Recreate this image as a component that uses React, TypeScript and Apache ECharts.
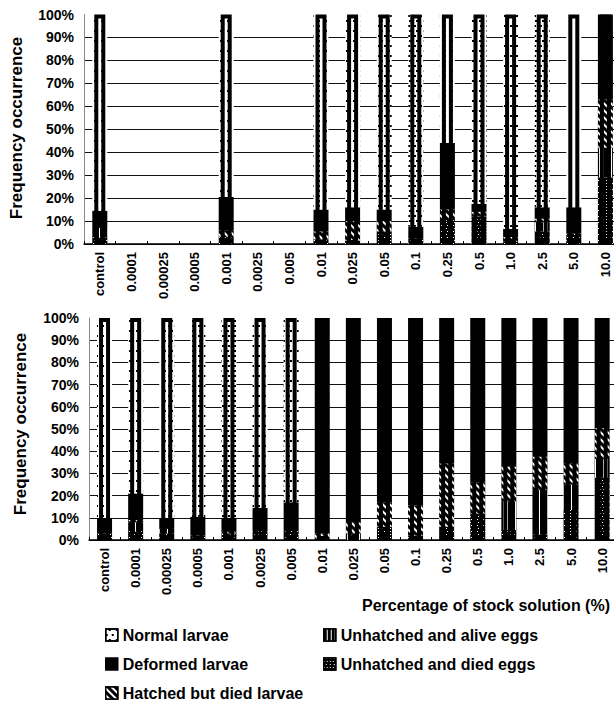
import React, { useEffect, useRef } from "react";
import * as echarts from "echarts";

const categories = ["control", "0.0001", "0.00025", "0.0005", "0.001", "0.0025", "0.005", "0.01", "0.025", "0.05", "0.1", "0.25", "0.5", "1.0", "2.5", "5.0", "10.0"];
const seriesNames = ["Unhatched and died eggs", "Unhatched and alive eggs", "Hatched but died larvae", "Deformed larvae", "Normal larvae"];

// Upper panel (null = not tested)
const topDiedEggs = [3, null, null, null, 3, null, null, 2, 1.5, 5.5, 2.5, 10, 12, 1, 5.5, 4.5, 29];
const topAliveEggs = [4, null, null, null, 0, null, null, 0, 0, 0, 0, 0, 0, 0, 4, 0, 13];
const topHatchedDied = [0, null, null, null, 3, null, null, 3.5, 8.5, 4.5, 0, 5, 2, 2, 1.5, 0, 21];
const topDeformed = [7.5, null, null, null, 14.5, null, null, 9.5, 6, 5, 5, 29, 3.5, 3.5, 5, 11.5, 37];
const topNormal = [85.5, null, null, null, 79.5, null, null, 85, 84, 85, 92.5, 56, 82.5, 93.5, 84, 84, 0];

// Lower panel
const botDiedEggs = [3, 4, 3, 2, 3, 4.5, 4, 0, 0, 6, 2, 6, 12, 4.5, 2.5, 13.5, 28];
const botAliveEggs = [0, 4, 2, 0, 0, 0, 0, 0, 3, 0, 0, 0, 0, 13, 20, 11.5, 8.5];
const botHatchedDied = [0, 1, 0, 0, 1, 0, 0, 3, 5, 11, 13.5, 28.5, 14, 15.5, 15, 9.5, 14];
const botDeformed = [7, 12, 5, 8.5, 6, 10, 13, 97, 92, 83, 84.5, 65.5, 74, 67, 62.5, 65.5, 49.5];
const botNormal = [90, 79, 90, 89.5, 90, 85.5, 83, 0, 0, 0, 0, 0, 0, 0, 0, 0, 0];

// Legend layout: [name, column]
const legendItems = [
  ["Normal larvae", 0], ["Deformed larvae", 0], ["Hatched but died larvae", 0],
  ["Unhatched and alive eggs", 1], ["Unhatched and died eggs", 1],
];

const FONT = "'Liberation Sans', Arial, sans-serif";

const decals: any = {
  "Normal larvae": { symbol: "rect", symbolSize: 1, color: "#000", dashArrayX: [[1.4, 3.6], [0, 2.5, 1.4, 1.1]], dashArrayY: [1.4, 2.4] },
  "Deformed larvae": null,
  "Hatched but died larvae": { symbol: "rect", symbolSize: 1, color: "#fff", dashArrayX: [1, 0], dashArrayY: [1.8, 2.6], rotation: Math.PI / 4 },
  "Unhatched and alive eggs": { symbol: "rect", symbolSize: 1, color: "#fff", dashArrayX: [1, 0], dashArrayY: [0.9, 2.1], rotation: Math.PI / 2 },
  "Unhatched and died eggs": { symbol: "rect", symbolSize: 1, color: "#fff", dashArrayX: [[1, 2], [0, 1.5, 1, 0.5]], dashArrayY: [1, 1.4] },
};
const baseColors: any = {
  "Normal larvae": "#fff",
  "Deformed larvae": "#000",
  "Hatched but died larvae": "#000",
  "Unhatched and alive eggs": "#000",
  "Unhatched and died eggs": "#000",
};

const clean = (arr: (number | null)[]) => arr.map((v) => (v === null ? "-" : v));

export default function App() {
  const ref = useRef<HTMLDivElement>(null);
  useEffect(() => {
    if (!ref.current) return;
    const chart = echarts.init(ref.current, null, { renderer: "svg" });
    const panels = [
      [topDiedEggs, topAliveEggs, topHatchedDied, topDeformed, topNormal],
      [botDiedEggs, botAliveEggs, botHatchedDied, botDeformed, botNormal],
    ];
    const series: any[] = [];
    panels.forEach((arrs, g) => {
      arrs.forEach((arr, i) => {
        const name = seriesNames[i];
        const itemStyle: any = { color: baseColors[name] };
        if (decals[name]) itemStyle.decal = decals[name];
        series.push({
          type: "bar",
          name,
          xAxisIndex: g,
          yAxisIndex: g,
          stack: "p" + g,
          barWidth: 15,
          data: clean(arr),
          itemStyle,
          emphasis: { disabled: true },
        });
      });
    });
    // bar outlines
    [topDiedEggs, botDiedEggs].forEach((arr, g) => {
      series.push({
        type: "bar",
        xAxisIndex: g + 2,
        yAxisIndex: g,
        barWidth: 11,
        silent: true,
        z: 5,
        data: arr.map((v) => (v === null ? "-" : 100)),
        itemStyle: { color: "rgba(0,0,0,0)", borderColor: "#000", borderWidth: 4 },
        emphasis: { disabled: true },
      });
    });

    const grids = [
      { left: 84, top: 14.5, width: 17 * 31.6, height: 229.5, containLabel: false, outerBoundsMode: "none" },
      { left: 89, top: 318, width: 17 * 31.1, height: 222, containLabel: false, outerBoundsMode: "none" },
    ];
    const xAxes: any[] = [0, 1].map((g) => ({
      type: "category",
      gridIndex: g,
      data: categories,
      axisLine: { lineStyle: { color: "#000", width: 1.5 } },
      axisTick: { show: true, inside: true, length: 3, interval: 0, lineStyle: { color: "#000" } },
      axisLabel: { rotate: 90, interval: 0, margin: 8, fontSize: 13, fontWeight: "bold", color: "#000", fontFamily: FONT },
      splitLine: { show: false },
    }));
    [0, 1].forEach((g) => xAxes.push({ type: "category", gridIndex: g, data: categories, show: false }));
    const yAxes = [0, 1].map((g) => ({
      type: "value",
      gridIndex: g,
      min: 0,
      max: 100,
      interval: 10,
      axisLine: { show: true, lineStyle: { color: "#888", width: 1 } },
      axisTick: { show: false },
      axisLabel: { formatter: "{value}%", margin: 10, fontSize: 14, fontWeight: "bold", color: "#000", fontFamily: FONT },
      splitLine: { show: true, showMaxLine: false, lineStyle: { color: "#111", width: 1.2 } },
    }));

    const rowCount = [0, 0];
    const legends = legendItems.map(([name, col]) => {
      const row = rowCount[col as number]++;
      return {
        orient: "horizontal",
        left: col === 0 ? 100 : 318,
        top: 622 + row * 29,
        itemWidth: 12,
        itemHeight: 12,
        icon: "rect",
        selectedMode: false,
        itemStyle: { borderColor: "#000", borderWidth: 1.5 },
        textStyle: { fontSize: 16, fontWeight: "bold", color: "#000", fontFamily: FONT },
        data: [name],
      };
    });

    chart.setOption({
      animation: false,
      backgroundColor: "#fff",
      grid: grids,
      xAxis: xAxes,
      yAxis: yAxes,
      series,
      legend: legends,
      graphic: [
        { type: "text", x: 16, y: 128, rotation: Math.PI / 2, style: { text: "Frequency occurrence", fontSize: 17, fontWeight: "bold", fill: "#000", fontFamily: FONT, align: "center", verticalAlign: "middle" } },
        { type: "text", x: 20, y: 424, rotation: Math.PI / 2, style: { text: "Frequency occurrence", fontSize: 17, fontWeight: "bold", fill: "#000", fontFamily: FONT, align: "center", verticalAlign: "middle" } },
        { type: "text", x: 610, y: 605, style: { text: "Percentage of stock solution (%)", fontSize: 16, fontWeight: "bold", fill: "#000", fontFamily: FONT, align: "right", verticalAlign: "middle" } },
      ],
    });
    return () => chart.dispose();
  }, []);
  return <div ref={ref} style={{ position: "absolute", left: 0, top: 0, width: 614, height: 710 }} />;
}
